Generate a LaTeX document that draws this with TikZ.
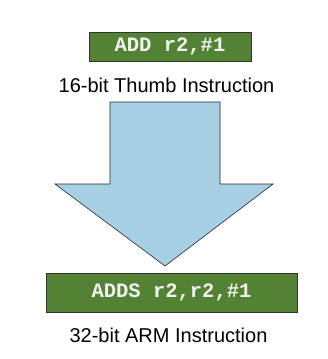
\documentclass[tikz,border=0pt]{standalone}
\usepackage{fontspec}
\setmainfont{Liberation Sans}
\newfontfamily\codefont{Liberation Mono}
\definecolor{boxgreen}{HTML}{548235}
\definecolor{arrowblue}{HTML}{A8D0E4}
\definecolor{codetext}{HTML}{F2F2F2}
\tikzset{
  codebox/.style={draw=black!80, line width=0.8pt, fill=boxgreen, text=codetext,
    font=\codefont\bfseries\fontsize{20.5}{22}\selectfont, inner sep=0pt, anchor=center},
  caption/.style={font=\fontsize{20}{23}\selectfont, text=black, inner sep=0pt},
  bigarrow/.style={draw=black!85, line width=0.6pt, fill=arrowblue, line join=miter}
}
\begin{document}
\begin{tikzpicture}[x=1pt,y=-1pt]
\useasboundingbox (0,0) rectangle (327,359);
\node[codebox, minimum width=162pt, minimum height=29pt] (thumb) at (170,46.5) {ADD r2,\#1};
\node[caption] (thumblbl) at (166.5,85) {16-bit Thumb Instruction};
\draw[bigarrow] (110,102) -- (220,102) -- (220,184) -- (273,184) -- (165,266) -- (55,184) -- (110,184) -- cycle;
\node[codebox, minimum width=251pt, minimum height=39pt] (arm) at (171.5,292.5) {ADDS r2,r2,\#1};
\node[caption] (armlbl) at (168.5,335) {32-bit ARM Instruction};
\end{tikzpicture}
\end{document}
